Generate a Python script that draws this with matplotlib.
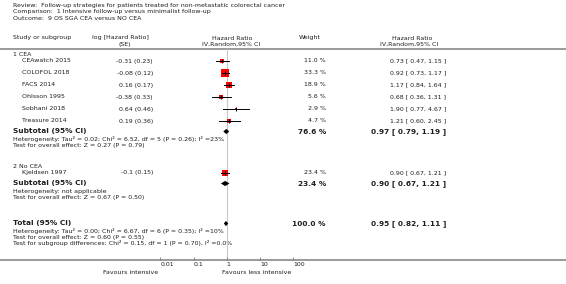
import matplotlib
matplotlib.use('Agg')
import matplotlib.pyplot as plt

plt.rcParams['font.family'] = 'DejaVu Sans'

# data
titles = ['Review:  Follow-up strategies for patients treated for non-metastatic colorectal cancer',
          'Comparison:  1 Intensive follow-up versus minimalist follow-up',
          'Outcome:  9 OS SGA CEA versus NO CEA']
groups = ['1 CEA', '2 No CEA']
studies = ['CEAwatch 2015', 'COLOFOL 2018', 'FACS 2014', 'Ohlsson 1995',
           'Sobhani 2018', 'Treasure 2014', 'Kjeldsen 1997']
study_group = [0, 0, 0, 0, 0, 0, 1]
log_hr = [-0.31, -0.08, 0.16, -0.38, 0.64, 0.19, -0.1]
se = [0.23, 0.12, 0.17, 0.33, 0.46, 0.36, 0.15]
weight = [11.0, 33.3, 18.9, 5.6, 2.9, 4.7, 23.4]
hr = [0.73, 0.92, 1.17, 0.68, 1.90, 1.21, 0.90]
hr_lo = [0.47, 0.73, 0.84, 0.36, 0.77, 0.60, 0.67]
hr_hi = [1.15, 1.17, 1.64, 1.31, 4.67, 2.45, 1.21]

sub_hr = [0.97, 0.90]
sub_lo = [0.79, 0.67]
sub_hi = [1.19, 1.21]
sub_w = [76.6, 23.4]
sub_het = ['Heterogeneity: Tau² = 0.02; Chi² = 6.52, df = 5 (P = 0.26); I² =23%',
           'Heterogeneity: not applicable']
sub_z = ['Test for overall effect: Z = 0.27 (P = 0.79)',
         'Test for overall effect: Z = 0.67 (P = 0.50)']

tot_hr, tot_lo, tot_hi, tot_w = 0.95, 0.82, 1.11, 100.0
tot_notes = ['Heterogeneity: Tau² = 0.00; Chi² = 6.67, df = 6 (P = 0.35); I² =10%',
             'Test for overall effect: Z = 0.60 (P = 0.55)',
             'Test for subgroup differences: Chi² = 0.15, df = 1 (P = 0.70), I² =0.0%']

ticks = [0.01, 0.1, 1, 10, 100]
tick_labels = ['0.01', '0.1', '1', '10', '100']

W, H = 566, 284
fig = plt.figure(figsize=(W / 100, H / 100), dpi=100)
ax = fig.add_axes([0, 0, 1, 1])
ax.set_xlim(0, W)
ax.set_ylim(H, 0)
ax.axis('off')

tc = '#1e1e1e'
fs = 4.5
fsb = 5.3
gray = '#9a9a9a'

# forest panel: log scale, 1 at x=226.7 px, 33.2 px per decade
one_x, dec = 226.7, 33.2
fx0, fx1 = 150, 305
top, bot = 49, 260
fax = fig.add_axes([fx0 / W, 1 - bot / H, (fx1 - fx0) / W, (bot - top) / H])
fax.set_xscale('log')
fax.set_xlim(10 ** ((fx0 - one_x) / dec), 10 ** ((fx1 - one_x) / dec))
fax.set_ylim(bot, top)
fax.patch.set_alpha(0)
for s in fax.spines.values():
    s.set_visible(False)
fax.set_yticks([])
fax.set_xticks(ticks)
fax.set_xticklabels(tick_labels)
fax.minorticks_off()
fax.tick_params(axis='x', direction='in', length=2.2, width=0.6, color='#777777',
                labelsize=fs, labelcolor=tc, pad=1.5)
for lab in fax.get_xticklabels():
    lab.set_horizontalalignment('left')
fax.axvline(1, color='#c8c8c8', lw=0.8, zorder=0)

# header
for i, t in enumerate(titles):
    ax.text(13, 6 + 6 * i, t, fontsize=fs, color=tc, va='center')
ax.text(13, 38, 'Study or subgroup', fontsize=fs, color=tc, va='center')
ax.text(120, 38, 'log [Hazard Ratio]', fontsize=fs, color=tc, va='center', ha='center')
ax.text(125, 44.5, '(SE)', fontsize=fs, color=tc, va='center', ha='center')
ax.text(232, 38, 'Hazard Ratio', fontsize=fs, color=tc, va='center', ha='center')
ax.text(231, 44.5, 'IV,Random,95% CI', fontsize=fs, color=tc, va='center', ha='center')
ax.text(310, 38, 'Weight', fontsize=fs, color=tc, va='center', ha='center')
ax.text(412, 38, 'Hazard Ratio', fontsize=fs, color=tc, va='center', ha='center')
ax.text(409, 44.5, 'IV,Random,95% CI', fontsize=fs, color=tc, va='center', ha='center')
ax.axhline(49, color=gray, lw=1.4)
ax.axhline(bot, color=gray, lw=1.4)


def diamond(y, c, lo, hi):
    h = 2.6
    fax.fill([lo, c, hi, c], [y, y - h, y, y + h], color='black', lw=0, zorder=4)


# row positions in pixels
group_y = [54.5, 166.5]
study_y = [61, 73, 85, 97, 109, 121, 172.5]
sub_y = [131.5, 183.5]

for g, name in enumerate(groups):
    ax.text(13, group_y[g], name, fontsize=fs, color=tc, va='center')

for i, name in enumerate(studies):
    y = study_y[i]
    ax.text(22, y, name, fontsize=fs, color=tc, va='center')
    ax.text(153, y, f'{log_hr[i]:g} ({se[i]:.2f})', fontsize=fs, color=tc,
            va='center', ha='right')
    ax.text(326, y, f'{weight[i]:.1f} %', fontsize=fs, color=tc, va='center', ha='right')
    ax.text(446, y, f'{hr[i]:.2f} [ {hr_lo[i]:.2f}, {hr_hi[i]:.2f} ]', fontsize=fs,
            color=tc, va='center', ha='right')
    fax.plot([hr_lo[i], hr_hi[i]], [y, y], color='black', lw=0.7, zorder=3)
    side = 1.4 * weight[i] ** 0.5 * 0.72
    fax.plot(hr[i], y, marker='s', ms=side, color='#ff0000', mew=0, zorder=2)
    fax.plot(hr[i], y, marker='|', ms=3.2, color='black', mew=0.7, zorder=3)

for g in range(len(groups)):
    y = sub_y[g]
    ax.text(13, y, 'Subtotal (95% CI)', fontsize=fsb, color=tc, va='center',
            fontweight='bold')
    ax.text(326, y, f'{sub_w[g]:.1f} %', fontsize=fsb, color=tc, va='center',
            ha='right', fontweight='bold')
    ax.text(446, y, f'{sub_hr[g]:.2f} [ {sub_lo[g]:.2f}, {sub_hi[g]:.2f} ]',
            fontsize=fsb, color=tc, va='center', ha='right', fontweight='bold')
    ax.text(13, y + 7.5, sub_het[g], fontsize=fs, color=tc, va='center')
    ax.text(13, y + 13.5, sub_z[g], fontsize=fs, color=tc, va='center')
    diamond(y, sub_hr[g], sub_lo[g], sub_hi[g])

ty = 223.5
ax.text(13, ty, 'Total (95% CI)', fontsize=fsb, color=tc, va='center', fontweight='bold')
ax.text(326, ty, f'{tot_w:.1f} %', fontsize=fsb, color=tc, va='center', ha='right',
        fontweight='bold')
ax.text(446, ty, f'{tot_hr:.2f} [ {tot_lo:.2f}, {tot_hi:.2f} ]', fontsize=fsb, color=tc,
        va='center', ha='right', fontweight='bold')
for k, t in enumerate(tot_notes):
    ax.text(13, ty + 7.5 + 6 * k, t, fontsize=fs, color=tc, va='center')
diamond(ty, tot_hr, tot_lo, tot_hi)

ax.text(131, 272, 'Favours intensive', fontsize=fs, color=tc, va='center', ha='center')
ax.text(222, 272, 'Favours less intensive', fontsize=fs, color=tc, va='center')

fig.savefig('out.png', dpi=100)
